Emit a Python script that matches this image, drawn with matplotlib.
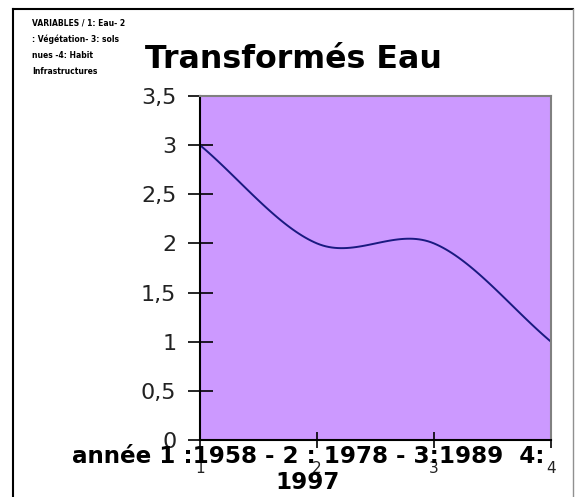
import numpy as np
import matplotlib
matplotlib.use("Agg")
import matplotlib.pyplot as plt
from matplotlib.lines import Line2D
from matplotlib.ticker import FixedLocator, FuncFormatter

# values for each period
periods = [1, 2, 3, 4]
eau = [3, 2, 2, 1]
yticks = [0, 0.5, 1, 1.5, 2, 2.5, 3, 3.5]

title = "Transformés Eau"
xlabel = "année 1 :1958 - 2 : 1978 - 3:1989  4:\n1997"
note = "VARIABLES / 1: Eau- 2\n: Végétation- 3: sols\nnues -4: Habit\nInfrastructures"


def smooth(x, y, n=40):
    """Catmull-Rom spline through the points (same look as a smoothed line)."""
    x = np.asarray(x, float)
    y = np.asarray(y, float)
    px = np.concatenate([[2 * x[0] - x[1]], x, [2 * x[-1] - x[-2]]])
    py = np.concatenate([[2 * y[0] - y[1]], y, [2 * y[-1] - y[-2]]])
    xs, ys = [], []
    t = np.linspace(0, 1, n)
    for i in range(1, len(px) - 2):
        for p, out in ((px, xs), (py, ys)):
            p0, p1, p2, p3 = p[i - 1], p[i], p[i + 1], p[i + 2]
            m1 = (p2 - p0) / 2
            m2 = (p3 - p1) / 2
            h = ((2 * t**3 - 3 * t**2 + 1) * p1 + (t**3 - 2 * t**2 + t) * m1
                 + (-2 * t**3 + 3 * t**2) * p2 + (t**3 - t**2) * m2)
            out.extend(h)
    return np.array(xs), np.array(ys)


W, H = 579, 497
fig = plt.figure(figsize=(W / 100, H / 100), dpi=100)
ax = fig.add_axes([200 / W, 1 - 440 / H, 351 / W, 344 / H])
ax.set_facecolor("#cc99ff")

sx, sy = smooth(periods, eau)
ax.plot(sx, sy, color="#1a1a80", lw=1.4)

ax.set_xlim(1, 4)
ax.set_ylim(0, 3.5)
ax.yaxis.set_major_locator(FixedLocator(yticks))
ax.yaxis.set_major_formatter(FuncFormatter(lambda v, p: ("%g" % v).replace(".", ",")))
ax.xaxis.set_major_locator(FixedLocator(periods))

ax.tick_params(axis="y", direction="inout", length=18, width=1.2, pad=8,
               labelsize=16, labelcolor="#222222")
ax.tick_params(axis="x", direction="inout", length=12, width=1.2, pad=9,
               labelsize=11, labelcolor="#222222")
for lab in ax.get_yticklabels() + ax.get_xticklabels():
    lab.set_family("DejaVu Sans")

for side in ("left", "bottom"):
    ax.spines[side].set_color("black")
    ax.spines[side].set_linewidth(1.5)
for side in ("top", "right"):
    ax.spines[side].set_color("#808080")
    ax.spines[side].set_linewidth(1.5)

fig.text(293 / W, 1 - 68 / H, title, ha="center", va="baseline",
         fontsize=22.8, fontweight="bold", family="DejaVu Sans")
fig.text(308 / W, 1 - 445 / H, xlabel, ha="center", va="top",
         multialignment="center", fontsize=16.6, fontweight="bold",
         family="DejaVu Sans", linespacing=1.15)
fig.text(32 / W, 1 - 18 / H, note, ha="left", va="top", fontsize=5.5,
         fontweight="bold", family="DejaVu Sans", linespacing=2.0)

# outer frame
fig.add_artist(Line2D([13 / W, 13 / W], [0, 1 - 9 / H], transform=fig.transFigure,
                      color="black", lw=1.5))
fig.add_artist(Line2D([13 / W, 573 / W], [1 - 9 / H, 1 - 9 / H],
                      transform=fig.transFigure, color="black", lw=1.5))
fig.add_artist(Line2D([573 / W, 573 / W], [0, 1 - 9 / H], transform=fig.transFigure,
                      color="#909090", lw=1))

fig.savefig("out.png", dpi=100)
